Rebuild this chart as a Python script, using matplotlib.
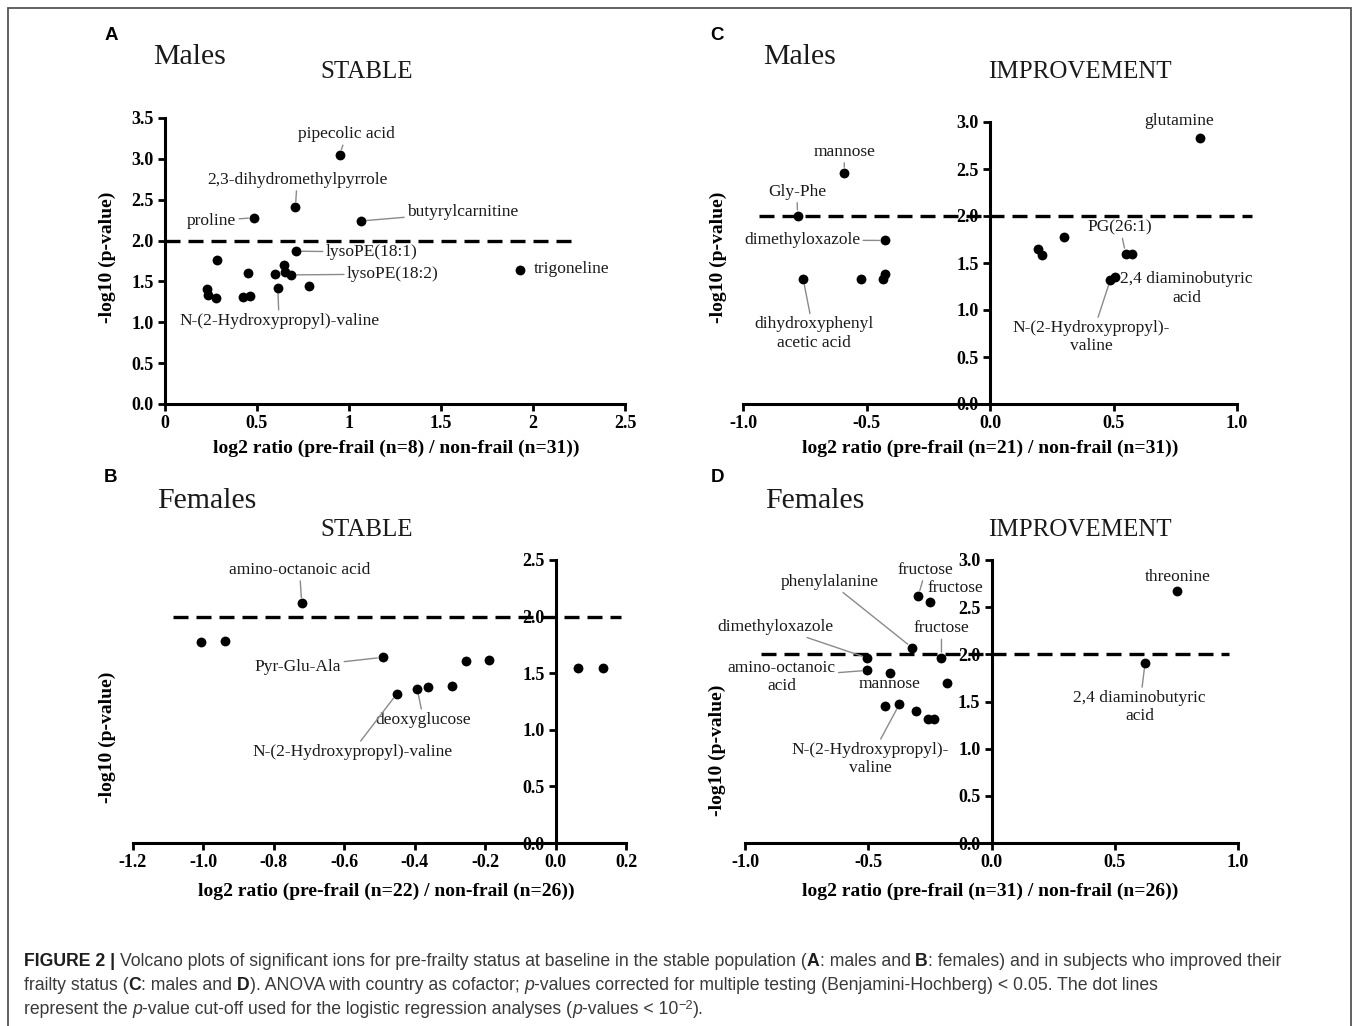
import matplotlib
matplotlib.use("Agg")
import matplotlib.pyplot as plt
from matplotlib.patches import Rectangle
from matplotlib.font_manager import FontProperties

plt.rcParams['axes.unicode_minus'] = False

W, H = 1357, 1026
SERIF = ['Liberation Serif', 'DejaVu Serif']
SANS = ['Liberation Sans', 'DejaVu Sans']

# ---------------- data ----------------
# Panel A: males, stable
a_x = [0.949, 0.709, 0.483, 1.066, 0.714, 1.927, 0.686, 0.645, 0.652, 0.598,
       0.449, 0.282, 0.226, 0.231, 0.278, 0.425, 0.464, 0.613, 0.782]
a_y = [3.05, 2.41, 2.28, 2.24, 1.87, 1.64, 1.58, 1.70, 1.62, 1.59,
       1.60, 1.76, 1.41, 1.34, 1.30, 1.31, 1.32, 1.42, 1.44]
a_names = ['pipecolic acid', '2,3-dihydromethylpyrrole', 'proline', 'butyrylcarnitine',
           'lysoPE(18:1)', 'trigoneline', 'lysoPE(18:2)', '', '', '',
           '', '', '', '', '', '', '', 'N-(2-Hydroxypropyl)-valine', '']

# Panel B: females, stable
b_x = [-0.721, -1.006, -0.938, -0.491, -0.255, -0.189, 0.064, 0.134,
       -0.451, -0.393, -0.362, -0.295]
b_y = [2.12, 1.774, 1.783, 1.64, 1.607, 1.613, 1.543, 1.549,
       1.317, 1.361, 1.382, 1.388]
b_names = ['amino-octanoic acid', '', '', 'Pyr-Glu-Ala', '', '', '', '',
           'N-(2-Hydroxypropyl)-valine', 'deoxyglucose', '', '']

# Panel C: males, improvement
c_x = [0.852, -0.590, -0.779, -0.425, -0.756, -0.524, -0.433, -0.425,
       0.193, 0.210, 0.299, 0.549, 0.574, 0.487, 0.508]
c_y = [2.83, 2.46, 2.005, 1.74, 1.325, 1.325, 1.335, 1.38,
       1.65, 1.59, 1.775, 1.60, 1.60, 1.32, 1.346]
c_names = ['glutamine', 'mannose', 'Gly-Phe', 'dimethyloxazole',
           'dihydroxyphenyl\nacetic acid', '', '', '', '', '', '', 'PG(26:1)', '',
           'N-(2-Hydroxypropyl)-\nvaline', '2,4 diaminobutyric\nacid']

# Panel D: females, improvement
d_x = [0.754, -0.297, -0.248, -0.322, -0.203, -0.504, -0.504, -0.412,
       -0.181, 0.623, -0.433, -0.374, -0.306, -0.257, -0.235]
d_y = [2.67, 2.62, 2.55, 2.07, 1.966, 1.962, 1.83, 1.807,
       1.70, 1.909, 1.449, 1.47, 1.399, 1.318, 1.318]
d_names = ['threonine', 'fructose', 'fructose', 'phenylalanine', 'fructose',
           'dimethyloxazole', 'amino-octanoic\nacid', 'mannose', '',
           '2,4 diaminobutyric\nacid', '', 'N-(2-Hydroxypropyl)-\nvaline', '', '', '']

cutoff = 2.0

a_xticks = [0, 0.5, 1, 1.5, 2, 2.5]
a_xticklabels = ['0', '0.5', '1', '1.5', '2', '2.5']
a_yticks = [0.0, 0.5, 1.0, 1.5, 2.0, 2.5, 3.0, 3.5]
b_xticks = [-1.2, -1.0, -0.8, -0.6, -0.4, -0.2, 0.0, 0.2]
b_xticklabels = ['-1.2', '-1.0', '-0.8', '-0.6', '-0.4', '-0.2', '0.0', '0.2']
b_yticks = [0.0, 0.5, 1.0, 1.5, 2.0, 2.5]
cd_xticks = [-1.0, -0.5, 0.0, 0.5, 1.0]
cd_xticklabels = ['-1.0', '-0.5', '0.0', '0.5', '1.0']
cd_yticks = [0.0, 0.5, 1.0, 1.5, 2.0, 2.5, 3.0]

# ---------------- layout (label positions, leader flags) ----------------
a_lab = {0: (0.987, 3.30, True), 1: (0.718, 2.74, True), 2: (0.254, 2.24, True),
         3: (1.617, 2.345, True), 4: (1.122, 1.86, True), 5: (2.209, 1.65, False),
         6: (1.237, 1.59, True), 17: (0.620, 1.02, True)}
b_lab = {0: (-0.727, 2.41, True), 3: (-0.731, 1.557, True),
         9: (-0.375, 1.089, True), 8: (-0.577, 0.805, True)}
c_lab = {0: (0.767, 3.01, False), 1: (-0.590, 2.68, True), 2: (-0.782, 2.256, True),
         3: (-0.760, 1.743, True), 4: (-0.713, 0.75, True), 11: (0.527, 1.877, True),
         14: (0.796, 1.23, False), 13: (0.411, 0.71, True)}
d_lab = {0: (0.757, 2.823, False), 1: (-0.267, 2.894, True), 2: (-0.145, 2.706, False),
         4: (-0.203, 2.274, True), 3: (-0.657, 2.77, True), 5: (-0.877, 2.292, True),
         6: (-0.851, 1.76, True), 7: (-0.413, 1.69, False), 11: (-0.493, 0.89, True),
         9: (0.601, 1.44, True)}

fig = plt.figure(figsize=(W / 100, H / 100), dpi=100)
fig.patch.set_facecolor('white')


def fx(px):
    return px / W


def fy(py):
    return 1 - py / H


def make_axes(l, r, t, b):
    return fig.add_axes([fx(l), fy(b), (r - l) / W, (b - t) / H])


axA = make_axes(165, 625, 118, 404)
axC = make_axes(743, 1237, 122, 404)
axB = make_axes(133, 626, 560, 843)
axD = make_axes(745, 1238, 560, 843)

TICKFS = 13
LABFS = 12.5
AXFS = 14


def panel(ax, xs, ys, names, lab, xlim, ylim, xticks, xticklabels, yticks,
          centered, cut_span):
    ax.set_xlim(xlim)
    ax.set_ylim(ylim)
    for s in ['top', 'right']:
        ax.spines[s].set_visible(False)
    for s in ['left', 'bottom']:
        ax.spines[s].set_linewidth(2.2)
        ax.spines[s].set_color('black')
    if centered:
        ax.spines['left'].set_position(('data', 0))
    ax.set_facecolor('none')
    ax.set_xticks(xticks, labels=xticklabels, fontsize=TICKFS, fontweight='bold', family=SERIF)
    ax.set_yticks(yticks, labels=['%.1f' % v for v in yticks], fontsize=TICKFS,
                  fontweight='bold', family=SERIF)
    ax.tick_params(axis='both', direction='out', length=5, width=2, color='black', pad=3)
    ax.hlines(cutoff, cut_span[0], cut_span[1], colors='black', linewidth=2.4,
              linestyles=(0, (4.5, 2.4)), clip_on=False, zorder=2)
    ax.scatter(xs, ys, s=50, c='black', zorder=4, clip_on=False, linewidths=0)
    for i, (tx, ty, leader) in lab.items():
        if leader:
            ax.annotate(names[i], xy=(xs[i], ys[i]), xytext=(tx, ty),
                        ha='center', va='center', fontsize=LABFS, family=SERIF,
                        color='#1a1a1a', annotation_clip=False,
                        arrowprops=dict(arrowstyle='-', color='#8a8a8a', lw=1.0,
                                        shrinkA=0, shrinkB=4))
        else:
            ax.text(tx, ty, names[i], ha='center', va='center', fontsize=LABFS,
                    family=SERIF, color='#1a1a1a', clip_on=False)


panel(axA, a_x, a_y, a_names, a_lab, (0, 2.5), (0, 3.5), a_xticks, a_xticklabels,
      a_yticks, False, (0, 2.25))
panel(axC, c_x, c_y, c_names, c_lab, (-1.0, 1.0), (0, 3.0), cd_xticks, cd_xticklabels,
      cd_yticks, True, (-0.935, 1.06))
panel(axB, b_x, b_y, b_names, b_lab, (-1.2, 0.2), (0, 2.5), b_xticks, b_xticklabels,
      b_yticks, True, (-1.087, 0.185))
panel(axD, d_x, d_y, d_names, d_lab, (-1.0, 1.0), (0, 3.0), cd_xticks, cd_xticklabels,
      cd_yticks, True, (-0.935, 0.964))

# axis labels
xlabels = [('log2 ratio (pre-frail (n=8) / non-frail (n=31))', 396, 448),
           ('log2 ratio (pre-frail (n=21) / non-frail (n=31))', 990, 448),
           ('log2 ratio (pre-frail (n=22) / non-frail (n=26))', 386, 891),
           ('log2 ratio (pre-frail (n=31) / non-frail (n=26))', 990, 891)]
for t, px, py in xlabels:
    fig.text(fx(px), fy(py), t, ha='center', va='center', fontsize=AXFS,
             fontweight='bold', family=SERIF)
for px, py in [(107, 257), (718, 257), (107, 737), (717, 750)]:
    fig.text(fx(px), fy(py), '-log10 (p-value)', ha='center', va='center',
             rotation=90, fontsize=AXFS, fontweight='bold', family=SERIF)

# panel letters & titles
for letter, px, py in [('A', 111, 35), ('C', 717, 35), ('B', 111, 478), ('D', 717, 478)]:
    fig.text(fx(px), fy(py), letter, ha='center', va='center', fontsize=13.5,
             fontweight='bold', family=SANS)
for t, px, py, fs in [('Males', 190, 57, 21.5), ('STABLE', 367, 72, 18),
                      ('Males', 800, 57, 21.5), ('IMPROVEMENT', 1080, 72, 18),
                      ('Females', 207, 501, 21.5), ('STABLE', 367, 530, 18),
                      ('Females', 815, 501, 21.5), ('IMPROVEMENT', 1080, 530, 18)]:
    fig.text(fx(px), fy(py), t, ha='center', va='center', fontsize=fs,
             family=SERIF, color='#1a1a1a')

# frame
fig.patches.append(Rectangle((fx(8), -0.02), (1351 - 8) / W, fy(8) + 0.02,
                             transform=fig.transFigure, fill=False,
                             edgecolor='#555555', linewidth=1.3))

# caption
renderer = fig.canvas.get_renderer()


def measure(s, size, weight, style):
    prop = FontProperties(family=SANS, size=size, weight=weight, style=style)
    w1 = renderer.get_text_width_height_descent('|' + s + '|', prop, False)[0]
    w0 = renderer.get_text_width_height_descent('||', prop, False)[0]
    return w1 - w0


N, B, I = ('normal', 'normal'), ('bold', 'normal'), ('normal', 'italic')
cap_lines = [
    [('FIGURE 2 |', B), (' Volcano plots of significant ions for pre-frailty status at baseline in the stable population (', N),
     ('A', B), (': males and ', N), ('B', B), (': females) and in subjects who improved their', N)],
    [('frailty status (', N), ('C', B), (': males and ', N), ('D', B),
     ('). ANOVA with country as cofactor; ', N), ('p', I),
     ('-values corrected for multiple testing (Benjamini-Hochberg) < 0.05. The dot lines', N)],
    [('represent the ', N), ('p', I), ('-value cut-off used for the logistic regression analyses (', N),
     ('p', I), ('-values < 10', N), ('\u22122', N, 'sup'), (').', N)],
]

base = 10.0
w_line1 = sum(measure(seg[0], base, *seg[1]) for seg in cap_lines[0])
cap_fs = base * 1263.0 / w_line1

for li, (line, py) in enumerate(zip(cap_lines, [966, 990, 1014])):
    x = 24.0
    for seg in line:
        s, (wt, st) = seg[0], seg[1]
        sup = len(seg) > 2
        size = cap_fs * (0.72 if sup else 1.0)
        dy = -5 if sup else 0
        lead = len(s) - len(s.lstrip(' '))
        xd = x + (measure(' ' * lead, size, wt, st) if lead else 0)
        col = '#1e1e1e' if (wt == 'bold' and li == 0 and s.startswith('FIG')) else '#3a3a3a'
        if wt == 'bold' and s in ('A', 'B', 'C', 'D'):
            col = '#1e1e1e'
        fig.text(fx(xd), fy(py + dy), s.lstrip(' '), ha='left', va='baseline',
                 fontsize=size, fontweight=wt, fontstyle=st, family=SANS, color=col)
        x += measure(s, size, wt, st)

fig.savefig('out.png', dpi=100, facecolor='white')
